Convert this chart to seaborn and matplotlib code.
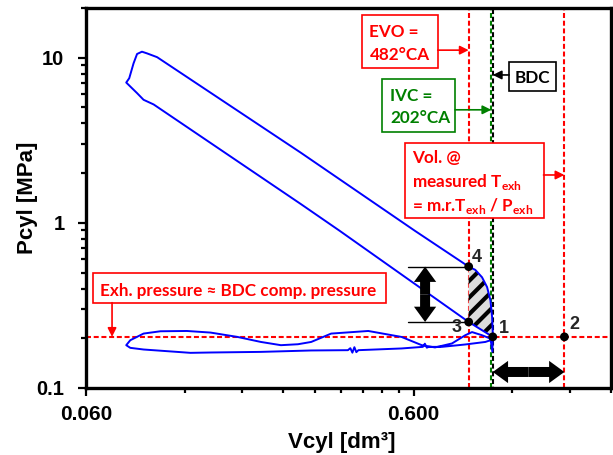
import matplotlib

matplotlib.use("Agg")
import matplotlib.pyplot as plt
from matplotlib.patches import Rectangle
from matplotlib.ticker import FixedLocator, NullFormatter
import numpy as np
import pandas as pd
import seaborn as sns


# P-V cycle: Vcyl in dm3, Pcyl in MPa
COMP_V = [1.046, 0.883, 0.3566, 0.272, 0.0965, 0.0899, 0.0859, 0.0796]
COMP_P = [0.204, 0.251, 0.895, 1.296, 5.21, 5.56, 6.10, 7.07]

COMB_V = [0.0813, 0.0838, 0.0859, 0.0889]
COMB_P = [7.51, 9.24, 10.53, 10.87]

EXP_V = [0.0921, 0.0989, 0.272, 0.605, 0.883]
EXP_P = [10.62, 10.07, 2.651, 0.895, 0.543]

BLOW_V = [0.925, 0.970, 1.005, 1.029, 1.041, 1.046, 1.043]
BLOW_P = [0.519, 0.468, 0.408, 0.339, 0.269, 0.2135, 0.166]

EXH_V = [1.029, 0.970, 0.904, 0.862, 0.785, 0.697, 0.635, 0.551, 0.436, 0.336,
         0.292, 0.266, 0.236, 0.205, 0.174, 0.144, 0.122, 0.1012, 0.0899, 0.0819, 0.0796]
EXH_P = [0.199, 0.2086, 0.218, 0.2086, 0.186, 0.176, 0.1816, 0.2037, 0.2214, 0.2135,
         0.190, 0.184, 0.1816, 0.190, 0.2037, 0.2165, 0.2214, 0.2205, 0.2135, 0.1946, 0.1816]

INT_V = [0.0819, 0.0899, 0.1138, 0.125, 0.144, 0.205, 0.292, 0.378, 0.3844, 0.390,
         0.3955, 0.401, 0.4069, 0.551, 0.640, 0.649, 0.658, 0.667, 0.731, 0.862,
         0.993, 1.029, 1.046]
INT_P = [0.175, 0.171, 0.1654, 0.1632, 0.164, 0.1654, 0.1687, 0.1694, 0.1742, 0.1636,
         0.1766, 0.1648, 0.1694, 0.1735, 0.1774, 0.1854, 0.1754, 0.1774, 0.1774, 0.1834,
         0.190, 0.1946, 0.204]

# reference volumes / pressure
EVO_V = 0.883
IVC_V = 1.035
BDC_V = 1.046
VOL_TEXH_V = 1.73
EXH_PRESSURE = 0.204

POINT_LABELS = ["1", "2", "3", "4"]
POINT_V = [1.046, 1.73, 0.883, 0.883]
POINT_P = [0.204, 0.204, 0.251, 0.543]

DP_ARROW_V = 0.650      # vertical double arrow (3 -> 4)
DP_LINE_V = 0.578       # start of the thin guide lines
DV_ARROW_P = 0.125      # horizontal double arrow (BDC -> vol @ Texh)

X_MAJOR = [0.06, 0.6]
X_MAJOR_LABELS = ["0.060", "0.600"]
X_MINOR = [0.12, 0.18, 0.24, 0.30, 0.36, 0.42, 0.48, 0.54, 1.2, 1.8, 2.4]
Y_MAJOR = [0.1, 1, 10]
Y_MAJOR_LABELS = ["0.1", "1", "10"]

RED = "#ff0000"
GREEN = "#008000"
BLUE = "#0000ff"
NOTE_FONT = ["Lato", "DejaVu Sans"]
AXIS_FONT = ["Liberation Sans", "DejaVu Sans"]
NOTE_SIZE = 12.3
DASH = (0, (2.4, 1.3))


def boxed_lines(ax, rect, lines, x_text, baselines, color, ha="left"):
    ax.add_patch(Rectangle(rect[:2], rect[2], rect[3], transform=ax.transAxes,
                           facecolor="white", edgecolor=color, linewidth=1.2,
                           zorder=5, clip_on=False))
    for line, y in zip(lines, baselines):
        ax.text(x_text, y, line, transform=ax.transAxes, ha=ha, va="baseline",
                color=color, fontsize=NOTE_SIZE, fontweight="bold",
                family=NOTE_FONT, zorder=6)


def thin_arrow(ax, start, end, color, coords):
    ax.annotate("", xy=end, xycoords=coords, xytext=start, textcoords="axes fraction",
                arrowprops=dict(arrowstyle="-|>", color=color, lw=1.2,
                                shrinkA=0, shrinkB=0, mutation_scale=13),
                zorder=6)


def fat_double_arrow(ax, tip_a, tip_b):
    mid = (np.sqrt(tip_a[0] * tip_b[0]), np.sqrt(tip_a[1] * tip_b[1]))
    style = "simple,head_width=1.6,head_length=1.1,tail_width=0.72"
    for tip in (tip_a, tip_b):
        ax.annotate("", xy=tip, xytext=mid,
                    arrowprops=dict(arrowstyle=style, color="black", lw=0,
                                    shrinkA=0, shrinkB=0, mutation_scale=10),
                    zorder=4)


def main():
    sns.set_theme(style="ticks")
    plt.rcParams.update({
        "font.family": AXIS_FONT,
        "font.weight": "bold",
        "mathtext.fontset": "custom",
        "mathtext.rm": "Lato:bold",
        "mathtext.bf": "Lato:bold",
        "hatch.linewidth": 3.0,
    })

    fig = plt.figure(figsize=(6.13, 4.55), dpi=100)
    ax = fig.add_axes([0.1403, 0.1473, 0.8564, 0.8352])
    ax.set_xscale("log")
    ax.set_yscale("log")

    segments = [("compression", COMP_V, COMP_P), ("combustion", COMB_V, COMB_P),
                ("expansion", EXP_V, EXP_P), ("blowdown", BLOW_V, BLOW_P),
                ("exhaust", EXH_V, EXH_P), ("intake", INT_V, INT_P)]
    cycle = pd.concat([pd.DataFrame({"V": v, "P": p, "stroke": name})
                       for name, v, p in segments], ignore_index=True)

    # hatched blowdown area between 3, 4 and 1
    hatch_v = [EXP_V[-1]] + BLOW_V[:6] + COMP_V[:2]
    hatch_p = [EXP_P[-1]] + BLOW_P[:6] + COMP_P[:2]
    ax.fill(hatch_v, hatch_p, facecolor="#dcdcdc", edgecolor="black",
            hatch="//", linewidth=0, zorder=1.5)

    # reference lines
    ax.axhline(EXH_PRESSURE, color=RED, lw=1.5, ls=DASH, zorder=1)
    ax.axvline(EVO_V, color=RED, lw=1.5, ls=DASH, zorder=1)
    ax.axvline(VOL_TEXH_V, color=RED, lw=1.5, ls=DASH, zorder=1)
    ax.axvline(IVC_V, color=GREEN, lw=1.5, ls=(0, (2.4, 1.3)), zorder=1)
    ax.axvline(BDC_V, color="black", lw=1.5, ls=(1.8, (2.4, 1.3)), zorder=1)

    sns.lineplot(data=cycle, x="V", y="P", sort=False, estimator=None,
                 color=BLUE, linewidth=1.4, ax=ax, zorder=3)

    # guide lines and double arrows
    ax.plot([DP_LINE_V, POINT_V[3]], [POINT_P[3], POINT_P[3]], color="black", lw=1.0, zorder=2)
    ax.plot([DP_LINE_V, POINT_V[2]], [POINT_P[2], POINT_P[2]], color="black", lw=1.0, zorder=2)
    fat_double_arrow(ax, (DP_ARROW_V, POINT_P[3]), (DP_ARROW_V, POINT_P[2]))
    fat_double_arrow(ax, (BDC_V, DV_ARROW_P), (VOL_TEXH_V, DV_ARROW_P))

    sns.scatterplot(x=POINT_V, y=POINT_P, color="black", s=40, edgecolor="none",
                    ax=ax, zorder=7)
    offsets = [(11, 8), (10, 12), (-12, -6), (8, 9)]
    for label, v, p, off in zip(POINT_LABELS, POINT_V, POINT_P, offsets):
        ax.annotate(label, (v, p), xytext=off, textcoords="offset pixels",
                    ha="center", va="center", fontsize=13, fontweight="bold",
                    family=AXIS_FONT, zorder=7)

    # annotation boxes
    boxed_lines(ax, (0.526, 0.841, 0.144, 0.140), ["EVO =", "482°CA"],
                0.540, [0.9228, 0.8632], RED)
    thin_arrow(ax, (0.670, 0.889), (EVO_V, 0.889), RED, ("data", "axes fraction"))

    boxed_lines(ax, (0.806, 0.782, 0.0891, 0.0763), ["BDC"], 0.8505, [0.803],
                "black", ha="center")
    thin_arrow(ax, (0.806, 0.8237), (BDC_V, 0.8237), "black", ("data", "axes fraction"))

    boxed_lines(ax, (0.563, 0.6745, 0.140, 0.1387), ["IVC =", "202°CA"],
                0.579, [0.756, 0.6966], GREEN)
    thin_arrow(ax, (0.703, 0.732), (IVC_V, 0.732), GREEN, ("data", "axes fraction"))

    boxed_lines(ax, (0.607, 0.4466, 0.2647, 0.1974),
                ["Vol. @", r"measured T$_{\mathbf{exh}}$",
                 r"= m.r.T$_{\mathbf{exh}}$ / P$_{\mathbf{exh}}$"],
                0.6215, [0.591, 0.529, 0.466], RED)
    thin_arrow(ax, (0.8715, 0.5605), (VOL_TEXH_V, 0.5605), RED, ("data", "axes fraction"))

    boxed_lines(ax, (0.0128, 0.2245, 0.558, 0.0774),
                ["Exh. pressure \u2248 BDC comp. pressure"], 0.0267, [0.242], RED)
    thin_arrow(ax, (0.0496, 0.2245), (0.0496, EXH_PRESSURE), RED, ("axes fraction", "data"))

    # axes
    ax.set_xlim(0.06, 2.4)
    ax.set_ylim(0.1, 20)
    ax.set_xticks(X_MAJOR, X_MAJOR_LABELS, fontsize=15, fontweight="bold",
                  family=AXIS_FONT, color="black")
    ax.set_yticks(Y_MAJOR, Y_MAJOR_LABELS, fontsize=14.5, fontweight="bold",
                  family=AXIS_FONT, color="black")
    ax.xaxis.set_minor_locator(FixedLocator(X_MINOR))
    ax.xaxis.set_minor_formatter(NullFormatter())
    ax.yaxis.set_minor_formatter(NullFormatter())

    for side in ["left", "right", "top", "bottom"]:
        ax.spines[side].set_visible(True)
        ax.spines[side].set_linewidth(2.4)
        ax.spines[side].set_color("black")
    ax.tick_params(which="major", direction="out", length=5.5, width=1.6,
                   color="black", top=False, right=False)
    ax.tick_params(which="minor", direction="out", length=3.5, width=1.6,
                   color="black", top=False, right=False)
    ax.tick_params(axis="x", which="major", pad=7)
    ax.tick_params(axis="y", which="major", pad=10)

    ax.set_xlabel("Vcyl [dm\u00b3]", fontsize=16, fontweight="bold", color="black")
    ax.set_ylabel("Pcyl [MPa]", fontsize=16, fontweight="bold", color="black")
    ax.xaxis.set_label_coords(0.487, -0.117)
    ax.yaxis.set_label_coords(-0.092, 0.5)
    ax.set_facecolor("white")

    fig.savefig("out.png", dpi=100, facecolor="white")
    plt.close(fig)


if __name__ == "__main__":
    main()
